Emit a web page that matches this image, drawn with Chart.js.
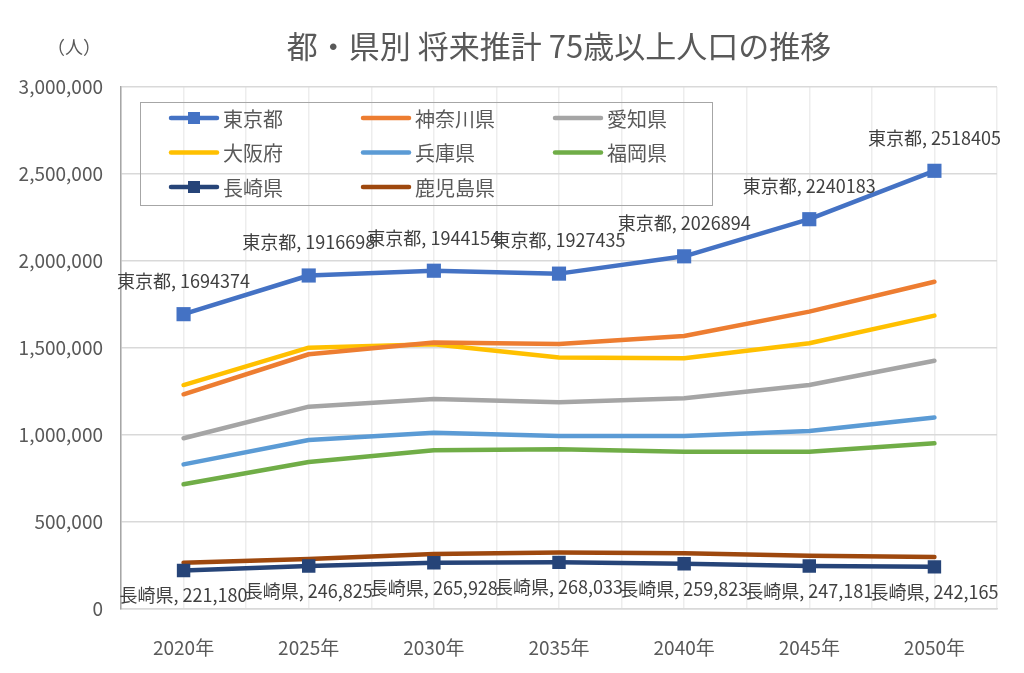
<!DOCTYPE html>
<html>
<head>
<meta charset="utf-8">
<script src="https://cdn.jsdelivr.net/npm/chart.js@4/dist/chart.umd.min.js"></script>
<style>
  html, body { margin:0; padding:0; background:#fff; }
  #wrap { width:1024px; height:673px; }
</style>
</head>
<body>
<div id="wrap"><canvas id="c" width="1024" height="673"></canvas></div>
<script>
// data
const years = ['2020年','2025年','2030年','2035年','2040年','2045年','2050年'];
const tokyo     = [1694374,1916698,1944154,1927435,2026894,2240183,2518405];
const kanagawa  = [1234000,1464000,1531000,1523000,1569000,1709000,1881000];
const aichi     = [981000,1163000,1207000,1188000,1211000,1287000,1427000];
const osaka     = [1287000,1502000,1521000,1446000,1441000,1527000,1686000];
const hyogo     = [831000,971000,1013000,994000,994000,1023000,1100000];
const fukuoka   = [717000,845000,912000,918000,904000,904000,952000];
const nagasaki  = [221180,246825,265928,268033,259823,247181,242165];
const kagoshima = [266000,287000,316000,324000,320000,306000,299000];
const yTicks = [0,500000,1000000,1500000,2000000,2500000,3000000];

const FONT = "'Noto Sans CJK JP', 'Noto Sans', sans-serif";
const GREY_TXT = '#595959';

function line(label, data, color, opts) {
  return Object.assign({
    label, data,
    borderColor: color, backgroundColor: color,
    borderWidth: 4.5, tension: 0,
    borderCapStyle: 'round', borderJoinStyle: 'round',
    pointRadius: 0, pointHoverRadius: 0, pointBorderWidth: 0
  }, opts || {});
}

const datasets = [
  line('東京都', tokyo, '#4472C4', { pointStyle:'rect', pointRadius:10, dataLabel:'above', labelFmt: v => '東京都, ' + v }),
  line('神奈川県', kanagawa, '#ED7D31'),
  line('愛知県', aichi, '#A5A5A5'),
  line('大阪府', osaka, '#FFC000'),
  line('兵庫県', hyogo, '#5B9BD5'),
  line('福岡県', fukuoka, '#70AD47'),
  line('長崎県', nagasaki, '#264478', { pointStyle:'rect', pointRadius:9.5, dataLabel:'below', labelFmt: v => '長崎県, ' + v.toLocaleString('en-US') }),
  line('鹿児島県', kagoshima, '#9E480E')
];

// title + unit label
const titlePlugin = {
  id: 'titleText',
  afterDraw(chart) {
    const ctx = chart.ctx, a = chart.chartArea;
    ctx.save();
    ctx.fillStyle = GREY_TXT;
    ctx.textBaseline = 'middle';
    ctx.textAlign = 'center';
    ctx.font = '31px ' + FONT;
    ctx.fillText('都・県別 将来推計 75歳以上人口の推移', (a.left + a.right) / 2, 46);
    ctx.font = '18px ' + FONT;
    ctx.fillText('（人）', 74, 47);
    ctx.restore();
  }
};

// data labels for Tokyo and Nagasaki
const labelPlugin = {
  id: 'pointLabels',
  afterDatasetsDraw(chart) {
    const ctx = chart.ctx;
    ctx.save();
    ctx.font = '18px ' + FONT;
    ctx.fillStyle = '#404040';
    ctx.textAlign = 'center';
    ctx.textBaseline = 'middle';
    chart.data.datasets.forEach((ds, i) => {
      if (!ds.dataLabel) return;
      const meta = chart.getDatasetMeta(i);
      meta.data.forEach((pt, j) => {
        const dy = ds.dataLabel === 'above' ? -33 : 25;
        ctx.fillText(ds.labelFmt(ds.data[j]), pt.x, pt.y + dy);
      });
    });
    ctx.restore();
  }
};

// legend box inside the plot, 3 columns
const legendPlugin = {
  id: 'boxLegend',
  afterDraw(chart) {
    const ctx = chart.ctx, a = chart.chartArea;
    const bx = a.left + 19, by = a.top + 15, bw = 572, bh = 103;
    ctx.save();
    ctx.strokeStyle = '#a6a6a6';
    ctx.lineWidth = 1;
    ctx.strokeRect(bx + 0.5, by + 0.5, bw, bh);
    ctx.font = '20px ' + FONT;
    ctx.textBaseline = 'middle';
    ctx.textAlign = 'left';
    chart.data.datasets.forEach((ds, i) => {
      const col = i % 3, row = Math.floor(i / 3);
      const x = bx + 31 + col * 192, y = by + 16 + row * 34.5;
      ctx.strokeStyle = ds.borderColor;
      ctx.lineWidth = 4.5;
      ctx.lineCap = 'round';
      ctx.beginPath(); ctx.moveTo(x, y); ctx.lineTo(x + 46, y); ctx.stroke();
      if (ds.pointStyle === 'rect') {
        ctx.fillStyle = ds.borderColor;
        ctx.fillRect(x + 23 - 6, y - 6, 12, 12);
      }
      ctx.fillStyle = GREY_TXT;
      ctx.fillText(ds.label, x + 52, y + 1);
    });
    ctx.restore();
  }
};

new Chart(document.getElementById('c'), {
  type: 'line',
  data: { labels: years, datasets },
  options: {
    responsive: false,
    animation: false,
    events: [],
    layout: { padding: { top: 87, right: 27, left: 0, bottom: 0 } },
    plugins: { legend: { display: false }, title: { display: false }, tooltip: { enabled: false } },
    scales: {
      x: {
        type: 'category',
        offset: true,
        grid: { display: false },
        border: { display: true, color: '#d9d9d9', width: 1.5 },
        ticks: { color: GREY_TXT, font: { family: FONT, size: 19 }, padding: 19, maxRotation: 0 },
        afterFit(s) { s.height = 64; }
      },
      xg: {
        type: 'linear',
        position: 'top',
        min: -0.5, max: 6.5,
        ticks: { display: false, stepSize: 0.5 },
        grid: { color: '#ededed', lineWidth: 1.5, drawTicks: false },
        border: { display: false },
        afterFit(s) { s.height = 0; }
      },
      y: {
        min: 0, max: 3000000,
        afterBuildTicks(s) { s.ticks = yTicks.map(v => ({ value: v })); },
        grid: { color: '#d9d9d9', lineWidth: 1.5, drawTicks: false },
        border: { display: true, color: '#a6a6a6', width: 1.5 },
        ticks: {
          color: GREY_TXT, font: { family: FONT, size: 19 }, padding: 18,
          callback: v => v.toLocaleString('en-US')
        },
        afterFit(s) { s.width = 121; }
      }
    }
  },
  plugins: [titlePlugin, labelPlugin, legendPlugin]
});
</script>
</body>
</html>
